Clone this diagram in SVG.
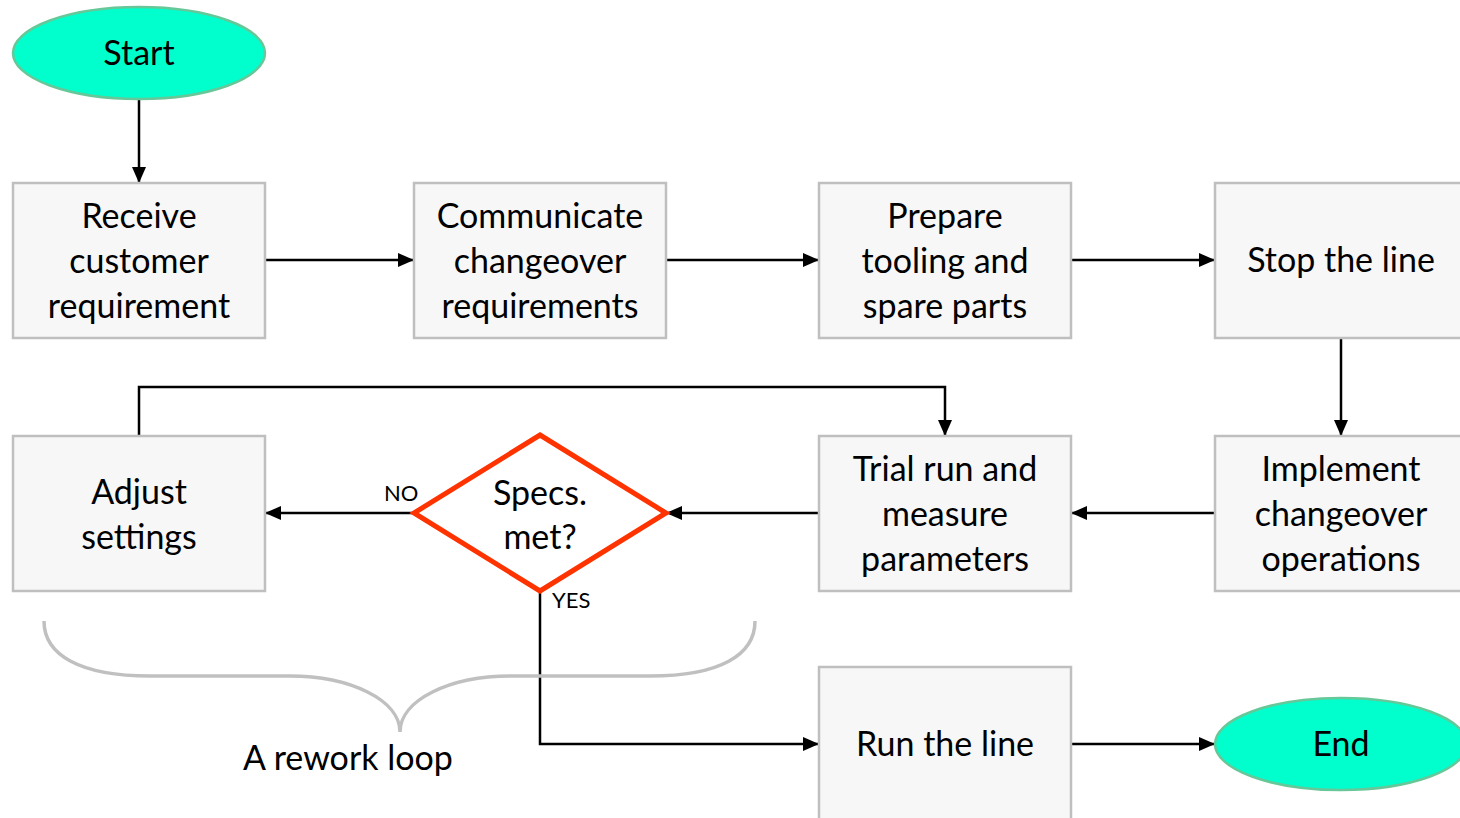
<svg xmlns="http://www.w3.org/2000/svg" width="1460" height="818" viewBox="0 0 1460 818">
  <style>
    .box { fill: #f7f7f7; stroke: #bfbfbf; stroke-width: 2.5; }
    .term { fill: #00ffcc; stroke: #66c799; stroke-width: 2.5; }
    .dec { fill: #ffffff; stroke: #ff3300; stroke-width: 5; stroke-linejoin: miter; }
    .lbl { font-family: Lato, "Open Sans", "Liberation Sans", sans-serif; font-size: 34px; fill: #000; text-anchor: middle; }
    .small { font-family: Lato, "Open Sans", "Liberation Sans", sans-serif; font-size: 22px; fill: #000; }
    .conn { fill: none; stroke: #000; stroke-width: 2.5; }
    .brace { fill: none; stroke: #c0c0c0; stroke-width: 3.5; }
  </style>
  <defs>
    <marker id="arrow" markerUnits="userSpaceOnUse" markerWidth="16" markerHeight="14" refX="15" refY="7" orient="auto">
      <path d="M0,0 L16,7 L0,14 Z" fill="#000"/>
    </marker>
  </defs>

  <rect width="1460" height="818" fill="#ffffff"/>

  <!-- connectors -->
  <g id="connectors">
    <path class="conn" d="M139,99 V182" marker-end="url(#arrow)"/>
    <path class="conn" d="M265,260 H413" marker-end="url(#arrow)"/>
    <path class="conn" d="M666,260 H818" marker-end="url(#arrow)"/>
    <path class="conn" d="M1071,260 H1214" marker-end="url(#arrow)"/>
    <path class="conn" d="M1341,338 V435" marker-end="url(#arrow)"/>
    <path class="conn" d="M1215,513 H1072" marker-end="url(#arrow)"/>
    <path class="conn" d="M819,513 H667" marker-end="url(#arrow)"/>
    <path class="conn" d="M414,513 H266" marker-end="url(#arrow)"/>
    <path class="conn" d="M139,436 V387 H945 V435" marker-end="url(#arrow)"/>
    <path class="conn" d="M540,591 V744 H818" marker-end="url(#arrow)"/>
    <path class="conn" d="M1071,744 H1214" marker-end="url(#arrow)"/>
    <text class="small" x="384" y="501">NO</text>
    <text class="small" x="552" y="608">YES</text>
  </g>

  <!-- rework loop brace -->
  <g id="rework-brace">
    <path class="brace" d="M44,621 C44,655 80,676 150,676 H290 C350,676 400,700 400,732 C400,700 450,676 510,676 H650 C720,676 755,655 755,621"/>
    <text class="lbl" x="348" y="770">A rework loop</text>
  </g>

  <g id="start">
    <ellipse class="term" cx="139" cy="53" rx="126" ry="46"/>
    <text class="lbl" x="139" y="65">Start</text>
  </g>

  <g id="receive">
    <rect class="box" x="13" y="183" width="252" height="155"/>
    <text class="lbl" x="139" y="228">Receive</text>
    <text class="lbl" x="139" y="273">customer</text>
    <text class="lbl" x="139" y="318">requirement</text>
  </g>

  <g id="communicate">
    <rect class="box" x="414" y="183" width="252" height="155"/>
    <text class="lbl" x="540" y="228">Communicate</text>
    <text class="lbl" x="540" y="273">changeover</text>
    <text class="lbl" x="540" y="318">requirements</text>
  </g>

  <g id="prepare">
    <rect class="box" x="819" y="183" width="252" height="155"/>
    <text class="lbl" x="945" y="228">Prepare</text>
    <text class="lbl" x="945" y="273">tooling and</text>
    <text class="lbl" x="945" y="318">spare parts</text>
  </g>

  <g id="stop">
    <rect class="box" x="1215" y="183" width="260" height="155"/>
    <text class="lbl" x="1341" y="272">Stop the line</text>
  </g>

  <g id="implement">
    <rect class="box" x="1215" y="436" width="260" height="155"/>
    <text class="lbl" x="1341" y="481">Implement</text>
    <text class="lbl" x="1341" y="526">changeover</text>
    <text class="lbl" x="1341" y="571">operations</text>
  </g>

  <g id="trial">
    <rect class="box" x="819" y="436" width="252" height="155"/>
    <text class="lbl" x="945" y="481">Trial run and</text>
    <text class="lbl" x="945" y="526">measure</text>
    <text class="lbl" x="945" y="571">parameters</text>
  </g>

  <g id="specs">
    <polygon class="dec" points="540,435 666,513 540,591 414,513"/>
    <text class="lbl" x="540" y="505">Specs.</text>
    <text class="lbl" x="540" y="549">met?</text>
  </g>

  <g id="adjust">
    <rect class="box" x="13" y="436" width="252" height="155"/>
    <text class="lbl" x="139" y="504">Adjust</text>
    <text class="lbl" x="139" y="549">settings</text>
  </g>

  <g id="run">
    <rect class="box" x="819" y="667" width="252" height="170"/>
    <text class="lbl" x="945" y="756">Run the line</text>
  </g>

  <g id="end">
    <ellipse class="term" cx="1341" cy="744" rx="126" ry="46"/>
    <text class="lbl" x="1341" y="756">End</text>
  </g>
</svg>
